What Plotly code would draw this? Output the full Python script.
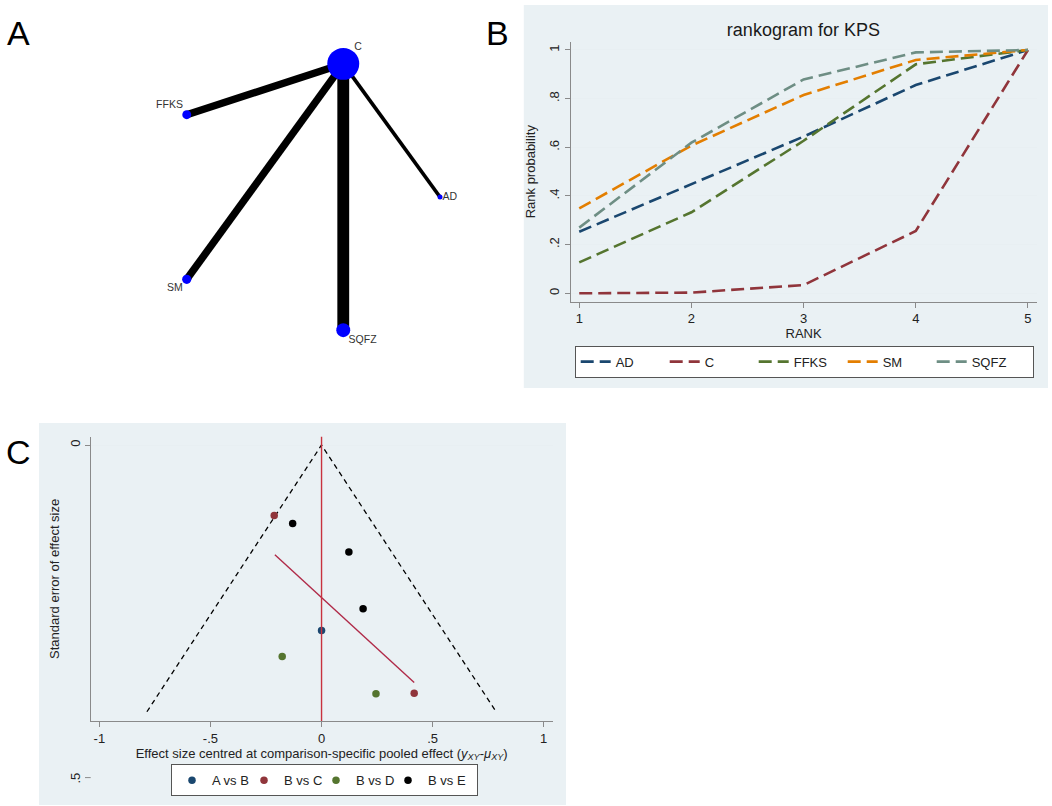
import math
import plotly.graph_objects as go

W, H = 1052, 806
FONT = "Liberation Sans, Arial, sans-serif"

# --- panel A: treatment network (all arms compared with C)
treatments = ['AD', 'C', 'FFKS', 'SM', 'SQFZ']
node_n = [25, 1020, 80, 85, 195]
edge_from = ['C', 'C', 'C', 'C']
edge_to = ['AD', 'FFKS', 'SM', 'SQFZ']
edge_studies = [1, 2, 2, 3.2]

# --- panel B: cumulative rank probabilities
ranks = [1, 2, 3, 4, 5]
ad_cum = [0.253, 0.448, 0.644, 0.856, 1.0]
c_cum = [0.0, 0.003, 0.034, 0.256, 1.0]
ffks_cum = [0.127, 0.333, 0.627, 0.941, 1.0]
sm_cum = [0.349, 0.607, 0.815, 0.959, 1.0]
sqfz_cum = [0.27, 0.619, 0.879, 0.99, 1.0]

# --- panel C: comparison-adjusted funnel plot
ab_x, ab_se = [0.0], [0.279]
bc_x, bc_se = [-0.213, 0.417], [0.106, 0.373]
bd_x, bd_se = [-0.177, 0.245], [0.318, 0.374]
be_x, be_se = [-0.130, 0.123, 0.187], [0.118, 0.161, 0.246]
fit_x, fit_se = [-0.21, 0.417], [0.165, 0.357]
se_max = 0.401


def px(x):
    return x / W


def py(y):
    return 1 - y / H


fig = go.Figure()

# network: nodes on a circle, in treatment order
angle = {t: math.radians(72 * i) for i, t in enumerate(treatments)}
pos = {t: (math.cos(a), math.sin(a)) for t, a in angle.items()}
node_x = [pos[t][0] for t in treatments]
node_y = [pos[t][1] for t in treatments]
node_size = [math.sqrt(n) for n in node_n]

for a, b, n in zip(edge_from, edge_to, edge_studies):
    fig.add_trace(go.Scatter(x=[pos[a][0], pos[b][0]], y=[pos[a][1], pos[b][1]],
                             mode='lines', line=dict(color='black', width=3.7 * n),
                             hoverinfo='skip', showlegend=False, xaxis='x', yaxis='y'))


def label_pos(t):
    c, s = math.cos(angle[t]), math.sin(angle[t])
    v = 'top' if s > 0.3 else ('bottom' if s < -0.3 else 'middle')
    return v + (' right' if c >= 0 else ' left')


fig.add_trace(go.Scatter(x=node_x, y=node_y, mode='markers',
                         marker=dict(color='#0000ff', size=node_size, opacity=1, line_width=0),
                         showlegend=False, xaxis='x', yaxis='y'))
# labels sit close to the node edge, like networkplot does
fig.add_trace(go.Scatter(x=node_x, y=node_y, mode='markers+text', text=treatments,
                         textposition=[label_pos(t) for t in treatments],
                         textfont=dict(size=10.5, color='#333333', family=FONT),
                         marker=dict(size=[0.5 * s for s in node_size], opacity=0),
                         hoverinfo='skip', showlegend=False, xaxis='x', yaxis='y'))

# rankogram
rank_series = [('AD', ad_cum, '#1a476f'), ('C', c_cum, '#90353b'), ('FFKS', ffks_cum, '#55752f'),
               ('SM', sm_cum, '#e37e00'), ('SQFZ', sqfz_cum, '#6e8e84')]
for i, (name, vals, col) in enumerate(rank_series):
    fig.add_trace(go.Scatter(x=ranks, y=vals, mode='lines', name=name,
                             line=dict(color=col, width=2.6, dash='13px,6px'),
                             legendwidth=56 if i == len(rank_series) - 1 else None,
                             xaxis='x2', yaxis='y2', legend='legend'))

# funnel
fig.add_trace(go.Scatter(x=[-1.96 * se_max, 0, 1.96 * se_max], y=[se_max, 0, se_max], mode='lines',
                         line=dict(color='black', width=1.3, dash='5px,4px'),
                         showlegend=False, xaxis='x3', yaxis='y3'))
fig.add_trace(go.Scatter(x=fit_x, y=fit_se, mode='lines', line=dict(color='#b02a48', width=1.4),
                         showlegend=False, xaxis='x3', yaxis='y3'))
groups = [('A vs B', ab_x, ab_se, '#1a476f'), ('B vs C', bc_x, bc_se, '#90353b'),
          ('B vs D', bd_x, bd_se, '#55752f'), ('B vs E', be_x, be_se, 'black')]
for i, (name, xs, ses, col) in enumerate(groups):
    fig.add_trace(go.Scatter(x=xs, y=ses, mode='markers', name=name,
                             marker=dict(color=col, size=7.5),
                             legendwidth=44 if i == len(groups) - 1 else None,
                             xaxis='x3', yaxis='y3', legend='legend2'))

# panel geometry
a_x = (-300 / 140, 210 / 140)
a_y = (-193 / 140, 197 / 140)
b_dom_x = [px(570.6), px(1036.6)]
b_dom_y = [py(301.7), py(41.7)]
c_dom_x = [px(90.7), px(552.6)]
c_dom_y = [py(721), py(436.7)]
c_range_y = [0.4149, -0.0125]


def se_to_paper(v):
    f = (v - c_range_y[0]) / (c_range_y[1] - c_range_y[0])
    return c_dom_y[0] + f * (c_dom_y[1] - c_dom_y[0])


axis_common = dict(showline=True, linecolor='#8a8a8a', linewidth=1, ticks='outside', ticklen=5,
                   tickcolor='#8a8a8a', zeroline=False, tickfont=dict(size=13, color='#222'),
                   title_font=dict(size=13, color='#222'))


def letter(t, x, y):
    return dict(text=t, x=px(x), y=py(y), xref='paper', yref='paper', showarrow=False,
                xanchor='center', yanchor='middle', font=dict(size=34, color='black'))


fig.update_layout(
    width=W, height=H, margin=dict(l=0, r=0, t=0, b=0, autoexpand=False),
    paper_bgcolor='white', plot_bgcolor='white',
    font=dict(family=FONT, color='#222'),
    title=dict(text='rankogram for KPS', x=px(803.4), y=py(30), xanchor='center', yanchor='middle',
               xref='paper', yref='paper', font=dict(size=18, color='#1a1a1a')),
    xaxis=dict(domain=[0, px(510)], range=list(a_x), visible=False),
    yaxis=dict(domain=[py(390), 1], range=list(a_y), visible=False),
    xaxis2=dict(domain=b_dom_x, range=[0.923, 5.077], anchor='y2', tickvals=ranks,
                showgrid=False, title=dict(text='RANK', standoff=2), **axis_common),
    yaxis2=dict(domain=b_dom_y, range=[-0.0345, 1.034], anchor='x2',
                tickvals=[0, 0.2, 0.4, 0.6, 0.8, 1], ticktext=['0', '.2', '.4', '.6', '.8', '1'],
                tickangle=-90, showgrid=True, gridcolor='#e8eff2',
                title=dict(text='Rank probability', standoff=8), **axis_common),
    xaxis3=dict(domain=c_dom_x, range=[-1.039, 1.040], anchor='y3',
                tickvals=[-1, -0.5, 0, 0.5, 1], ticktext=['-1', '-.5', '0', '.5', '1'], showgrid=False,
                title=dict(text='Effect size centred at comparison-specific pooled effect '
                                '(<i>y<sub>XY</sub></i>-<i>μ<sub>XY</sub></i>)', standoff=0),
                **axis_common),
    yaxis3=dict(domain=c_dom_y, range=c_range_y, anchor='x3', tickvals=[0], ticktext=['0'],
                tickangle=-90, showgrid=True, gridcolor='#e8eff2',
                title=dict(text='Standard error of effect size', standoff=4), **axis_common),
    legend=dict(orientation='h', x=px(574.7), y=py(345.7), xanchor='left', yanchor='top',
                bgcolor='white', bordercolor='#555', borderwidth=1, font=dict(size=13, color='#222'),
                entrywidth=44, itemwidth=30, tracegroupgap=0),
    legend2=dict(orientation='h', x=px(171), y=py(764.3), xanchor='left', yanchor='top',
                 bgcolor='white', bordercolor='#555', borderwidth=1, font=dict(size=13, color='#222'),
                 entrywidth=27, itemwidth=30),
    shapes=[
        dict(type='rect', xref='paper', yref='paper', x0=px(523.8), x1=px(1048), y0=py(388), y1=py(5),
             fillcolor='#eaf1f4', line_width=0, layer='below'),
        dict(type='rect', xref='paper', yref='paper', x0=px(39), x1=px(566), y0=py(805), y1=py(423),
             fillcolor='#eaf1f4', line_width=0, layer='below'),
        dict(type='line', xref='x3', yref='y3 domain', x0=0, x1=0, y0=0, y1=1,
             line=dict(color='#c8323e', width=1.4)),
        dict(type='line', xref='paper', yref='paper', x0=px(85), x1=px(90.7),
             y0=se_to_paper(0.5), y1=se_to_paper(0.5), line=dict(color='#8a8a8a', width=1)),
    ],
    annotations=[
        letter('A', 18, 33),
        letter('B', 497, 33),
        letter('C', 19, 452),
        dict(text='.5', x=px(76), y=se_to_paper(0.5), xref='paper', yref='paper', showarrow=False,
             xanchor='center', yanchor='middle', textangle=-90, font=dict(size=13, color='#222')),
    ],
)

fig.write_html("out.html", config={'displayModeBar': False},
               post_script="document.body.style.margin = '0px';")
